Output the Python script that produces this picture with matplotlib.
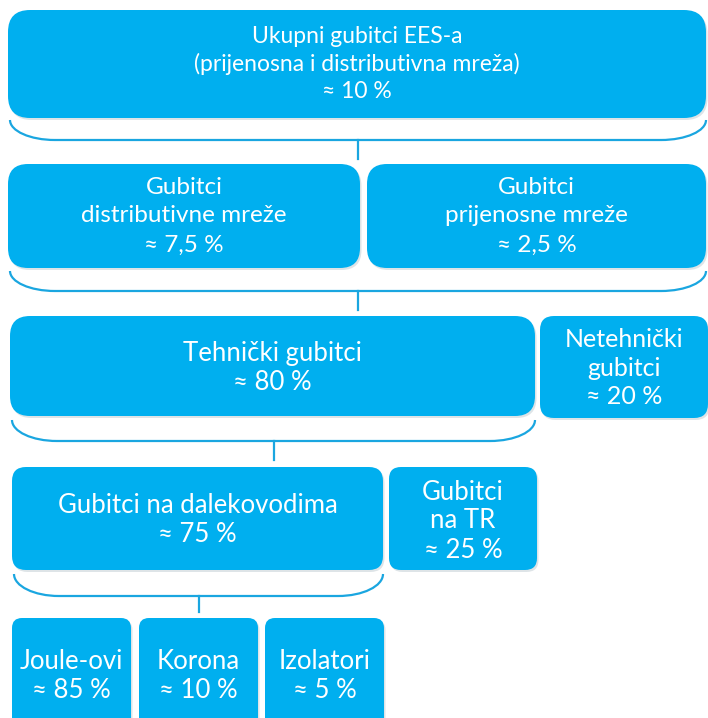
import matplotlib.pyplot as plt
from matplotlib.patches import FancyBboxPatch, PathPatch
from matplotlib.path import Path

# data: labels and shares of each loss component
titles = [
    ["Ukupni gubitci EES-a", "(prijenosna i distributivna mreža)"],
    ["Gubitci", "distributivne mreže"],
    ["Gubitci", "prijenosne mreže"],
    ["Tehnički gubitci"],
    ["Netehnički", "gubitci"],
    ["Gubitci na dalekovodima"],
    ["Gubitci", "na TR"],
    ["Joule-ovi"],
    ["Korona"],
    ["Izolatori"],
]
shares = [10, 7.5, 2.5, 80, 20, 75, 25, 85, 10, 5]

# layout (pixels, y down): x0, x1, y0, y1, text centre y, corner radius, font size, line step
boxes = [
    (8, 706, 10, 118, 64, 22, 16.5, 27.5),
    (8, 360, 164, 268, 216, 20, 17.5, 29),
    (367, 706, 164, 268, 216, 20, 17.5, 29),
    (10, 535, 316, 416, 368, 20, 18.5, 29),
    (540, 708, 316, 418, 368, 14, 18, 28.5),
    (12, 383, 467, 570, 520, 14, 18.5, 29),
    (389, 537, 467, 570, 521, 12, 18.5, 29),
    (12, 131, 618, 735, 676, 10, 18.5, 29),
    (139, 258, 618, 735, 676, 10, 18.5, 29),
    (265, 384, 618, 735, 676, 10, 18.5, 29),
]
# braces under a parent box: x0, x1, top y, bottom y, stem end y
braces = [
    (10, 706, 120, 140, 159),
    (10, 706, 271, 291, 310),
    (12, 535, 420, 441, 460),
    (14, 383, 574, 596, 612),
]

BLUE = "#00AFEF"
LINE = "#1AA6E0"

fig = plt.figure(figsize=(7.08, 7.18), dpi=100)
ax = fig.add_axes([0, 0, 1, 1])
ax.set_xlim(0, 708)
ax.set_ylim(718, 0)
ax.axis("off")


def fmt(v):
    s = f"{v:g}".replace(".", ",")
    return f"≈ {s} %"


for lines, v, (x0, x1, y0, y1, cy, r, fs, step) in zip(titles, shares, boxes):
    shadow = FancyBboxPatch((x0 + 1.5, y0 + 2), x1 - x0, y1 - y0,
                            boxstyle=f"round,pad=0,rounding_size={r}",
                            fc="#c9d3d8", ec="none", alpha=0.6, zorder=1)
    ax.add_patch(shadow)
    box = FancyBboxPatch((x0, y0), x1 - x0, y1 - y0,
                         boxstyle=f"round,pad=0,rounding_size={r}",
                         fc=BLUE, ec="none", zorder=2)
    ax.add_patch(box)
    allLines = lines + [fmt(v)]
    start = cy - step * (len(allLines) - 1) / 2
    for i, t in enumerate(allLines):
        ax.text((x0 + x1) / 2, start + i * step, t, color="white",
                fontsize=fs, family=["Lato", "DejaVu Sans"],
                ha="center", va="center", zorder=3)

for x0, x1, yt, yb, ys in braces:
    w, h, k = 45, yb - yt, 0.5523
    verts = [
        (x0, yt), (x0, yt + k * h), (x0 + w - k * w, yb), (x0 + w, yb),
        (x1 - w, yb),
        (x1 - w + k * w, yb), (x1, yt + k * h), (x1, yt),
    ]
    codes = [Path.MOVETO, Path.CURVE4, Path.CURVE4, Path.CURVE4,
             Path.LINETO, Path.CURVE4, Path.CURVE4, Path.CURVE4]
    ax.add_patch(PathPatch(Path(verts, codes), fc="none", ec=LINE, lw=1.6, zorder=2))
    xm = (x0 + x1) / 2
    ax.plot([xm, xm], [yb, ys], color=LINE, lw=1.6, zorder=2)

fig.savefig("out.png", dpi=100)
